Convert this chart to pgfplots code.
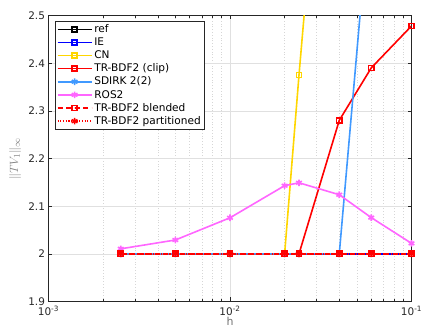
\documentclass[border=0pt]{standalone}
\usepackage{pgfplots}
\pgfplotsset{compat=1.18}
\usepackage{fontspec}
\setmainfont{DejaVu Sans}
\definecolor{cnY}{rgb}{1,0.84,0}
\definecolor{sdB}{rgb}{0.25,0.6,1}
\definecolor{rosM}{rgb}{1,0.4,1}
\definecolor{axg}{rgb}{0.15,0.15,0.15}
\begin{document}
\begin{tikzpicture}
\begin{axis}[
  scale only axis, width=363bp, height=286bp,
  xmode=log, xmin=1e-3, xmax=1e-1, ymin=1.9, ymax=2.5,
  ytick={1.9,2.0,2.1,2.2,2.3,2.4,2.5},
  yticklabels={1.9,2,2.1,2.2,2.3,2.4,2.5},
  xtick={1e-3,1e-2,1e-1},
  xticklabels={10\textsuperscript{-3},10\textsuperscript{-2},10\textsuperscript{-1}},
  minor xtick={0.002,0.003,0.004,0.005,0.006,0.007,0.008,0.009,0.02,0.03,0.04,0.05,0.06,0.07,0.08,0.09},
  tick align=inside, major tick length=4bp, minor tick length=2.5bp,
  xmajorgrids, ymajorgrids, xminorgrids,
  major grid style={color=black!12, line width=0.5bp},
  minor grid style={color=black!16, dash pattern=on 0.6bp off 2.2bp, line width=0.5bp},
  axis line style={color=axg, line width=0.6bp},
  every tick/.style={color=axg, line width=0.5bp},
  tick label style={color=axg, font=\fontsize{10.5}{12}\selectfont},
  xticklabel style={yshift=-1.5bp},
  xlabel={$\mathrm{h}$}, ylabel={$\|TV_1\|_\infty$},
  xlabel style={at={(axis description cs:0.5,-0.071)}, anchor=center, color=black!55, font=\fontsize{11}{13}\selectfont},
  ylabel style={at={(axis description cs:-0.092,0.5)}, anchor=center, rotate=0, color=black!50, font=\fontsize{13}{15}\selectfont},
  clip=true,
  legend cell align=left,
  legend style={at={(axis description cs:0.018,0.981)}, anchor=north west,
    draw=axg, line width=0.5bp, fill=white, inner sep=1.5bp,
    font=\fontsize{10.6}{12.5}\selectfont, row sep=-0.3bp},
  legend image code/.code={\draw[mark repeat=2,mark phase=2,#1,line width=1.6bp] plot coordinates {(0bp,0bp) (17bp,0bp) (34bp,0bp)};},
  every axis plot/.append style={line width=1.6bp},
  mark options={solid},
]
\coordinate (bbll) at (rel axis cs:0,0);
\coordinate (bbur) at (rel axis cs:1,1);
\addplot[black, line width=1.6bp, mark=square, mark size=2.6bp] coordinates {(0.0025,2) (0.005,2) (0.01,2) (0.02,2) (0.024,2) (0.04,2) (0.06,2) (0.1,2)};
\addlegendentry{ref}
\addplot[blue, line width=1.6bp, mark=square, mark size=2.6bp] coordinates {(0.0025,2) (0.005,2) (0.01,2) (0.02,2) (0.024,2) (0.04,2) (0.06,2) (0.1,2)};
\addlegendentry{IE}
\addplot[cnY, line width=1.6bp, mark=square, mark size=2.6bp] coordinates {(0.0025,2) (0.005,2) (0.01,2) (0.02,2) (0.024,2.375) (0.04,3.36) (0.06,4.5) (0.1,6)};
\addlegendentry{CN}
\addplot[red, line width=1.6bp, mark=square, mark size=2.6bp] coordinates {(0.0025,2) (0.005,2) (0.01,2) (0.02,2) (0.024,2) (0.04,2.28) (0.06,2.39) (0.1,2.478)};
\addlegendentry{TR-BDF2 (clip)}
\addplot[sdB, line width=1.6bp, mark=asterisk, mark size=3.3bp] coordinates {(0.0025,2) (0.005,2) (0.01,2) (0.02,2) (0.024,2) (0.04,2) (0.06,2.77) (0.1,3.6)};
\addlegendentry{SDIRK 2(2)}
\addplot[rosM, line width=1.6bp, mark=asterisk, mark size=3.3bp] coordinates {(0.0025,2.0105) (0.005,2.029) (0.01,2.0756) (0.02,2.143) (0.024,2.149) (0.04,2.124) (0.06,2.076) (0.1,2.022)};
\addlegendentry{ROS2}
\addplot[red, line width=1.6bp, dash pattern=on 5bp off 3.5bp, mark=square, mark size=2.6bp] coordinates {(0.0025,2) (0.005,2) (0.01,2) (0.02,2) (0.024,2) (0.04,2) (0.06,2) (0.1,2)};
\addlegendentry{TR-BDF2 blended}
\addplot[red, line width=1.6bp, dash pattern=on 1.2bp off 1.5bp, mark=asterisk, mark size=3.3bp] coordinates {(0.0025,2) (0.005,2) (0.01,2) (0.02,2) (0.024,2) (0.04,2) (0.06,2) (0.1,2)};
\addlegendentry{TR-BDF2 partitioned}
\end{axis}
\pgfresetboundingbox
\path ([xshift=-48.5bp,yshift=-32.3bp]bbll) rectangle ([xshift=10.5bp,yshift=15.5bp]bbur);
\end{tikzpicture}
\end{document}
